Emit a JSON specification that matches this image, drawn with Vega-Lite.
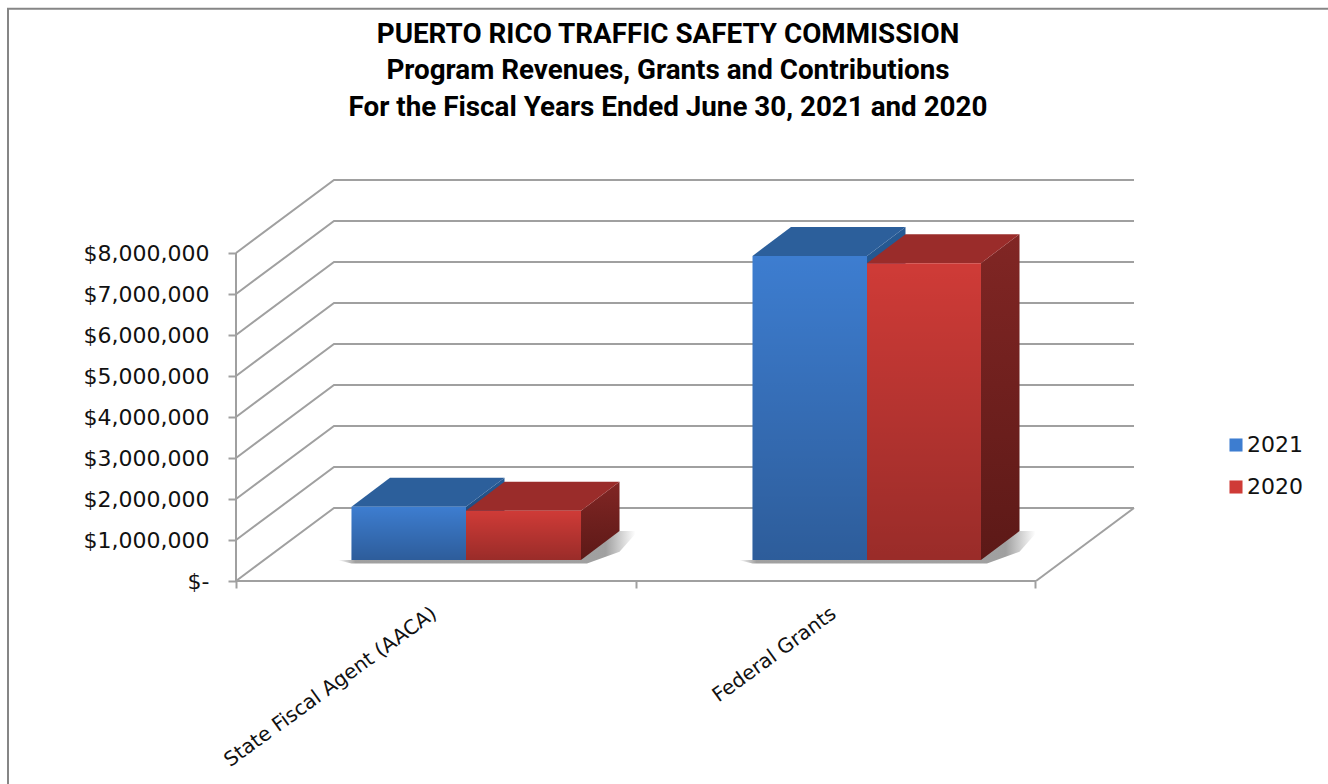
{
"$schema":"https://vega.github.io/schema/vega-lite/v6.json",
"autosize":{"type":"none"},
"padding":{"left":236,"top":179,"right":194,"bottom":203},
"width":898,"height":402,
"background":"white",
"view":{"stroke":null},
"title":{"text":["PUERTO RICO TRAFFIC SAFETY COMMISSION","Program Revenues, Grants and Contributions","For the Fiscal Years Ended June 30, 2021 and 2020"],"font":"Roboto","fontWeight":"bold","fontSize":27.8,"lineHeight":36.5,"color":"#000000","anchor":"middle","dx":-17,"offset":0,"dy":117},
"datasets":{
"lines":[
{"line":"axisY","xpos":0,"level":0},{"line":"axisY","xpos":0,"level":8000000},
{"line":"front","xpos":0,"level":0},{"line":"front","xpos":2.0025,"level":0},
{"line":"side","xpos":2.0025,"level":0},{"line":"side","xpos":2.2478,"level":1780000},
{"line":"g0","xpos":0,"level":0},{"line":"g0","xpos":0.2453,"level":1780000},{"line":"g0","xpos":2.2478,"level":1780000},
{"line":"g1","xpos":0,"level":1000000},{"line":"g1","xpos":0.2453,"level":2780000},{"line":"g1","xpos":2.2478,"level":2780000},
{"line":"g2","xpos":0,"level":2000000},{"line":"g2","xpos":0.2453,"level":3780000},{"line":"g2","xpos":2.2478,"level":3780000},
{"line":"g3","xpos":0,"level":3000000},{"line":"g3","xpos":0.2453,"level":4780000},{"line":"g3","xpos":2.2478,"level":4780000},
{"line":"g4","xpos":0,"level":4000000},{"line":"g4","xpos":0.2453,"level":5780000},{"line":"g4","xpos":2.2478,"level":5780000},
{"line":"g5","xpos":0,"level":5000000},{"line":"g5","xpos":0.2453,"level":6780000},{"line":"g5","xpos":2.2478,"level":6780000},
{"line":"g6","xpos":0,"level":6000000},{"line":"g6","xpos":0.2453,"level":7780000},{"line":"g6","xpos":2.2478,"level":7780000},
{"line":"g7","xpos":0,"level":7000000},{"line":"g7","xpos":0.2453,"level":8780000},{"line":"g7","xpos":2.2478,"level":8780000},
{"line":"g8","xpos":0,"level":8000000},{"line":"g8","xpos":0.2453,"level":9780000},{"line":"g8","xpos":2.2478,"level":9780000}
],
"frame":[
{"xpos":-0.5707,"level":-5000000},{"xpos":-0.5707,"level":13960000},{"xpos":2.7334,"level":13960000}
],
"shadow":[
{"category":"State Fiscal Agent (AACA)","xpos":0.2541,"low":0,"level":0},
{"category":"State Fiscal Agent (AACA)","xpos":0.2891,"low":-85000,"level":0},
{"category":"State Fiscal Agent (AACA)","xpos":0.8636,"low":-85000,"level":0},
{"category":"State Fiscal Agent (AACA)","xpos":0.8786,"low":-85000,"level":300000},
{"category":"State Fiscal Agent (AACA)","xpos":0.96,"low":200000,"level":707000},
{"category":"State Fiscal Agent (AACA)","xpos":1.0,"low":640000,"level":707000},
{"category":"Federal Grants","xpos":1.2579,"low":0,"level":0},
{"category":"Federal Grants","xpos":1.2929,"low":-85000,"level":0},
{"category":"Federal Grants","xpos":1.8648,"low":-85000,"level":0},
{"category":"Federal Grants","xpos":1.8798,"low":-85000,"level":300000},
{"category":"Federal Grants","xpos":1.9612,"low":200000,"level":707000},
{"category":"Federal Grants","xpos":2.0012,"low":640000,"level":707000}
],
"faces":[
{"series":"2021","category":"State","face":"side","xpos":0.5757,"low":0,"level":1300000},
{"series":"2021","category":"State","face":"side","xpos":0.6721,"low":707000,"level":2007000},
{"series":"2021","category":"State","face":"top","xpos":0.2891,"low":1300000,"level":1300000},
{"series":"2021","category":"State","face":"top","xpos":0.3855,"low":1300000,"level":2007000},
{"series":"2021","category":"State","face":"top","xpos":0.5757,"low":1300000,"level":2007000},
{"series":"2021","category":"State","face":"top","xpos":0.6721,"low":2007000,"level":2007000},
{"series":"2020","category":"State","face":"side","xpos":0.8636,"low":0,"level":1200000},
{"series":"2020","category":"State","face":"side","xpos":0.96,"low":707000,"level":1907000},
{"series":"2020","category":"State","face":"top","xpos":0.5757,"low":1200000,"level":1200000},
{"series":"2020","category":"State","face":"top","xpos":0.6721,"low":1200000,"level":1907000},
{"series":"2020","category":"State","face":"top","xpos":0.8636,"low":1200000,"level":1907000},
{"series":"2020","category":"State","face":"top","xpos":0.96,"low":1907000,"level":1907000},
{"series":"2021","category":"Federal","face":"side","xpos":1.5795,"low":0,"level":7415000},
{"series":"2021","category":"Federal","face":"side","xpos":1.6759,"low":707000,"level":8122000},
{"series":"2021","category":"Federal","face":"top","xpos":1.2929,"low":7415000,"level":7415000},
{"series":"2021","category":"Federal","face":"top","xpos":1.3893,"low":7415000,"level":8122000},
{"series":"2021","category":"Federal","face":"top","xpos":1.5795,"low":7415000,"level":8122000},
{"series":"2021","category":"Federal","face":"top","xpos":1.6759,"low":8122000,"level":8122000},
{"series":"2020","category":"Federal","face":"side","xpos":1.8648,"low":0,"level":7240000},
{"series":"2020","category":"Federal","face":"side","xpos":1.9612,"low":707000,"level":7947000},
{"series":"2020","category":"Federal","face":"top","xpos":1.5795,"low":7240000,"level":7240000},
{"series":"2020","category":"Federal","face":"top","xpos":1.6759,"low":7240000,"level":7947000},
{"series":"2020","category":"Federal","face":"top","xpos":1.8648,"low":7240000,"level":7947000},
{"series":"2020","category":"Federal","face":"top","xpos":1.9612,"low":7947000,"level":7947000}
],
"bars":[
{"category":"State Fiscal Agent (AACA)","series":"2021","xpos":0.2891,"xend":0.5757,"level":1300000},
{"category":"State Fiscal Agent (AACA)","series":"2020","xpos":0.5757,"xend":0.8636,"level":1200000},
{"category":"Federal Grants","series":"2021","xpos":1.2929,"xend":1.5795,"level":7415000},
{"category":"Federal Grants","series":"2020","xpos":1.5795,"xend":1.8648,"level":7240000}
],
"labels":[
{"category":"State Fiscal Agent (AACA)","xpos":0.5,"level":0},
{"category":"Federal Grants","xpos":1.5,"level":0}
]
},
"encoding":{
"x":{"field":"xpos","type":"quantitative","scale":{"domain":[0,2.2478],"nice":false,"zero":false},"axis":{"values":[0,1,2],"labels":false,"title":null,"grid":false,"domain":false,"ticks":true,"tickSize":7,"tickColor":"#a0a0a0","tickWidth":2}},
"y":{"field":"level","type":"quantitative","scale":{"domain":[0,9805000],"nice":false,"zero":false},"axis":{"values":[0,1000000,2000000,3000000,4000000,5000000,6000000,7000000,8000000],"title":null,"grid":false,"domain":false,"tickSize":8,"tickColor":"#a0a0a0","tickWidth":2,"labelPadding":19,"labelFont":"DejaVu Sans","labelFontSize":22,"labelColor":"#111111","labelExpr":"datum.value==0?'$-':format(datum.value,'$,.0f')"}}
},
"layer":[
{"data":{"name":"frame"},"mark":{"type":"line","stroke":"#868686","strokeWidth":2,"clip":false},"encoding":{}},
{"data":{"name":"lines"},"mark":{"type":"line","stroke":"#a0a0a0","strokeWidth":2},"encoding":{"detail":{"field":"line"}}},
{"data":{"name":"shadow"},"mark":{"type":"area","yOffset":-21,"y2Offset":-21,"fill":{"gradient":"linear","x1":0,"y1":0,"x2":1,"y2":0,"stops":[{"offset":0,"color":"rgba(120,120,120,0)"},{"offset":0.06,"color":"rgba(120,120,120,0.7)"},{"offset":0.9,"color":"rgba(120,120,120,0.7)"},{"offset":1,"color":"rgba(120,120,120,0)"}]}},"encoding":{"y2":{"field":"low"},"detail":{"field":"category"}}},
{"data":{"name":"faces"},"transform":[{"filter":"datum.series=='2021'&&datum.face=='side'"}],"mark":{"type":"area","yOffset":-21,"y2Offset":-21,"fill":{"gradient":"linear","x1":0,"y1":0,"x2":0,"y2":1,"stops":[{"offset":0,"color":"#265a94"},{"offset":1,"color":"#173a66"}]}},"encoding":{"y2":{"field":"low"},"detail":{"field":"category"}}},
{"data":{"name":"faces"},"transform":[{"filter":"datum.series=='2021'&&datum.face=='top'"}],"mark":{"type":"area","yOffset":-21,"y2Offset":-21,"fill":"#2c5f9b"},"encoding":{"y2":{"field":"low"},"detail":{"field":"category"}}},
{"data":{"name":"faces"},"transform":[{"filter":"datum.series=='2020'&&datum.face=='side'"}],"mark":{"type":"area","yOffset":-21,"y2Offset":-21,"fill":{"gradient":"linear","x1":0,"y1":0,"x2":0,"y2":1,"stops":[{"offset":0,"color":"#812624"},{"offset":1,"color":"#5c1917"}]}},"encoding":{"y2":{"field":"low"},"detail":{"field":"category"}}},
{"data":{"name":"faces"},"transform":[{"filter":"datum.series=='2020'&&datum.face=='top'"}],"mark":{"type":"area","yOffset":-21,"y2Offset":-21,"fill":"#9a2c2a"},"encoding":{"y2":{"field":"low"},"detail":{"field":"category"}}},
{"data":{"name":"bars"},"mark":{"type":"rect","yOffset":-21,"y2Offset":-21},"encoding":{"x2":{"field":"xend"},"y2":{"datum":0},"color":{"field":"series","type":"nominal","scale":{"domain":["2021","2020"],"range":["#3d7dd0","#cf3b37"]},"legend":{"title":null,"orient":"none","legendX":989,"legendY":255,"symbolType":"square","symbolSize":170,"symbolStrokeWidth":0,"rowPadding":20,"labelFont":"DejaVu Sans","labelFontSize":22,"labelColor":"#111111","labelOffset":0}}}},
{"data":{"name":"bars"},"mark":{"type":"rect","yOffset":-21,"y2Offset":-21,"fill":{"gradient":"linear","x1":0,"y1":0,"x2":0,"y2":1,"stops":[{"offset":0,"color":"rgba(0,0,0,0)"},{"offset":1,"color":"rgba(0,0,0,0.26)"}]}},"encoding":{"x2":{"field":"xend"},"y2":{"datum":0}}},
{"data":{"name":"labels"},"mark":{"type":"text","angle":-36,"align":"right","baseline":"middle","dx":-19,"dy":24,"font":"DejaVu Sans","fontSize":20,"color":"#111111","clip":false},"encoding":{"text":{"field":"category"}}}
]
}
